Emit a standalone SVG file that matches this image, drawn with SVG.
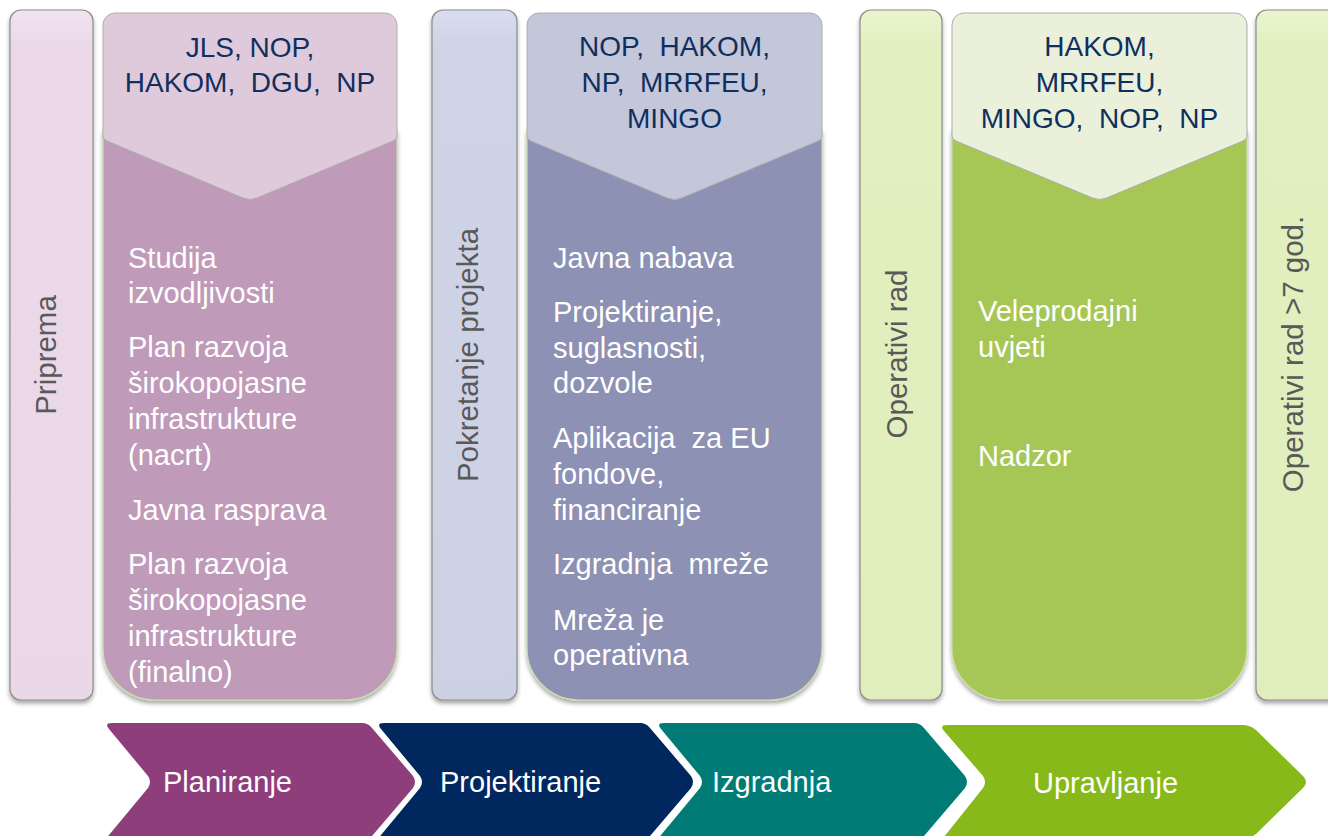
<svg xmlns="http://www.w3.org/2000/svg" width="1328" height="836" viewBox="0 0 1328 836">
<defs>
<style>
.hdr{font-family:"Liberation Sans",Arial,sans-serif;font-size:28px;fill:#0F2F5F;text-anchor:middle}
.body{font-family:"Liberation Sans",Arial,sans-serif;font-size:29px;fill:#FFFFFF}
.vert{font-family:"Liberation Sans",Arial,sans-serif;font-size:29.5px;fill:#595959;text-anchor:middle}
.chev{font-family:"Liberation Sans",Arial,sans-serif;font-size:29px;fill:#FFFFFF}
.side{stroke:#8C8C8C;stroke-width:1.2}
.hshape{stroke:#ADADAD;stroke-width:1}
.bshape{stroke:#C8DDA8;stroke-width:1.2}
</style>
<filter id="sh" x="-20%" y="-5%" width="140%" height="112%">
<feDropShadow dx="0" dy="3" stdDeviation="2" flood-color="#000" flood-opacity="0.35"/>
</filter>
<linearGradient id="gPink" x1="0" y1="0" x2="0" y2="1"><stop offset="0" stop-color="#F1E3F0"/><stop offset="0.05" stop-color="#EBD9EA"/><stop offset="1" stop-color="#EAD8E9"/></linearGradient>
<linearGradient id="gBlue" x1="0" y1="0" x2="0" y2="1"><stop offset="0" stop-color="#DADDEE"/><stop offset="0.05" stop-color="#CFD3E6"/><stop offset="1" stop-color="#CDD1E4"/></linearGradient>
<linearGradient id="gGreen" x1="0" y1="0" x2="0" y2="1"><stop offset="0" stop-color="#EAF5CF"/><stop offset="0.05" stop-color="#E2EFC0"/><stop offset="1" stop-color="#E0EEBD"/></linearGradient>
</defs>

<g id="col-priprema">
<rect class="side" x="10" y="10" width="83" height="690" rx="11" fill="url(#gPink)" filter="url(#sh)"/>
<text class="vert" transform="translate(56,355) rotate(-90)">Priprema</text>
</g>

<g id="col-planiranje">
<path class="bshape" d="M103,130 L397,130 L397,648 A52,52 0 0 1 345,700 L155,700 A52,52 0 0 1 103,648 Z" fill="#C09AB9" filter="url(#sh)"/>
<path class="hshape" d="M103,25 A12,12 0 0 1 115,13 L385,13 A12,12 0 0 1 397,25 L397,136 Q397,139 393,141 L257,198 Q250,201 243,198 L107,141 Q103,139 103,136 Z" fill="#DFCADB"/>
<text class="hdr" x="250" y="57">JLS, NOP,</text>
<text class="hdr" x="250" y="92" xml:space="preserve">HAKOM,  DGU,  NP</text>
<text class="body" x="128" y="268">Studija</text>
<text class="body" x="128" y="303">izvodljivosti</text>
<text class="body" x="128" y="357">Plan razvoja</text>
<text class="body" x="128" y="393">širokopojasne</text>
<text class="body" x="128" y="429">infrastrukture</text>
<text class="body" x="128" y="465">(nacrt)</text>
<text class="body" x="128" y="520">Javna rasprava</text>
<text class="body" x="128" y="574">Plan razvoja</text>
<text class="body" x="128" y="610">širokopojasne</text>
<text class="body" x="128" y="646">infrastrukture</text>
<text class="body" x="128" y="682">(finalno)</text>
</g>

<g id="col-pokretanje">
<rect class="side" x="432" y="10" width="85" height="690" rx="11" fill="url(#gBlue)" filter="url(#sh)"/>
<text class="vert" transform="translate(478,355) rotate(-90)">Pokretanje projekta</text>
</g>

<g id="col-projektiranje">
<path class="bshape" d="M527,130 L822,130 L822,648 A52,52 0 0 1 770,700 L579,700 A52,52 0 0 1 527,648 Z" fill="#8D91B3" filter="url(#sh)"/>
<path class="hshape" d="M527,25 A12,12 0 0 1 539,13 L810,13 A12,12 0 0 1 822,25 L822,136 Q822,139 818,141 L681.5,198 Q674.5,201 667.5,198 L531,141 Q527,139 527,136 Z" fill="#C4C6D9"/>
<text class="hdr" x="674.5" y="56" xml:space="preserve">NOP,  HAKOM,</text>
<text class="hdr" x="674.5" y="92" xml:space="preserve">NP,  MRRFEU,</text>
<text class="hdr" x="674.5" y="128">MINGO</text>
<text class="body" x="553" y="268">Javna nabava</text>
<text class="body" x="553" y="322">Projektiranje,</text>
<text class="body" x="553" y="358">suglasnosti,</text>
<text class="body" x="553" y="393">dozvole</text>
<text class="body" x="553" y="448" xml:space="preserve">Aplikacija  za EU</text>
<text class="body" x="553" y="484">fondove,</text>
<text class="body" x="553" y="520">financiranje</text>
<text class="body" x="553" y="574" xml:space="preserve">Izgradnja  mreže</text>
<text class="body" x="553" y="630">Mreža je</text>
<text class="body" x="553" y="665">operativna</text>
</g>

<g id="col-operativi">
<rect class="side" x="860" y="10" width="82" height="690" rx="11" fill="url(#gGreen)" filter="url(#sh)"/>
<text class="vert" transform="translate(907,354) rotate(-90)">Operativi rad</text>
</g>

<g id="col-upravljanje">
<path class="bshape" d="M952,130 L1247,130 L1247,648 A52,52 0 0 1 1195,700 L1004,700 A52,52 0 0 1 952,648 Z" fill="#A6C756" filter="url(#sh)"/>
<path class="hshape" d="M952,25 A12,12 0 0 1 964,13 L1235,13 A12,12 0 0 1 1247,25 L1247,136 Q1247,139 1243,141 L1106.5,198 Q1099.5,201 1092.5,198 L956,141 Q952,139 952,136 Z" fill="#EAF0DA"/>
<text class="hdr" x="1099.5" y="56">HAKOM,</text>
<text class="hdr" x="1099.5" y="92">MRRFEU,</text>
<text class="hdr" x="1099.5" y="128" xml:space="preserve">MINGO,  NOP,  NP</text>
<text class="body" x="978" y="321">Veleprodajni</text>
<text class="body" x="978" y="357">uvjeti</text>
<text class="body" x="978" y="466">Nadzor</text>
</g>

<g id="col-operativi7">
<rect class="side" x="1256" y="10" width="100" height="690" rx="11" fill="url(#gGreen)" filter="url(#sh)"/>
<text class="vert" transform="translate(1303,354) rotate(-90)">Operativi rad &gt;7 god.</text>
</g>

<g id="connectors"></g>

<g id="chev-planiranje">
<path d="M112,723 L362,723 Q368,723 372,728 L413,776 Q417,782 413,788 L372,836 L362,841 L112,841 Q104,841 109,835 L148,788 Q152,782 148,776 L109,729 Q104,723 112,723 Z" fill="#8E3E7A"/>
<text class="chev" x="163" y="792">Planiranje</text>
</g>
<g id="chev-projektiranje">
<path d="M384,723 L640,723 Q646,723 650,728 L691,776 Q695,782 691,788 L650,836 L640,841 L384,841 Q376,841 381,835 L420,788 Q424,782 420,776 L381,729 Q376,723 384,723 Z" fill="#00285E"/>
<text class="chev" x="440" y="792">Projektiranje</text>
</g>
<g id="chev-izgradnja">
<path d="M664,723 L914,723 Q920,723 924,728 L965,776 Q969,782 965,788 L924,836 L914,841 L664,841 Q656,841 661,835 L700,788 Q704,782 700,776 L661,729 Q656,723 664,723 Z" fill="#007B76"/>
<text class="chev" x="712" y="792">Izgradnja</text>
</g>
<g id="chev-upravljanje">
<path d="M947,725 L1242,725 Q1250,725 1256,730 L1303,776 Q1309,782 1303,788 L1256,834 L1242,843 L947,843 Q939,843 944,837 L983,788 Q987,782 983,776 L944,731 Q939,725 947,725 Z" fill="#88B91A"/>
<text class="chev" x="1033" y="793">Upravljanje</text>
</g>
</svg>
